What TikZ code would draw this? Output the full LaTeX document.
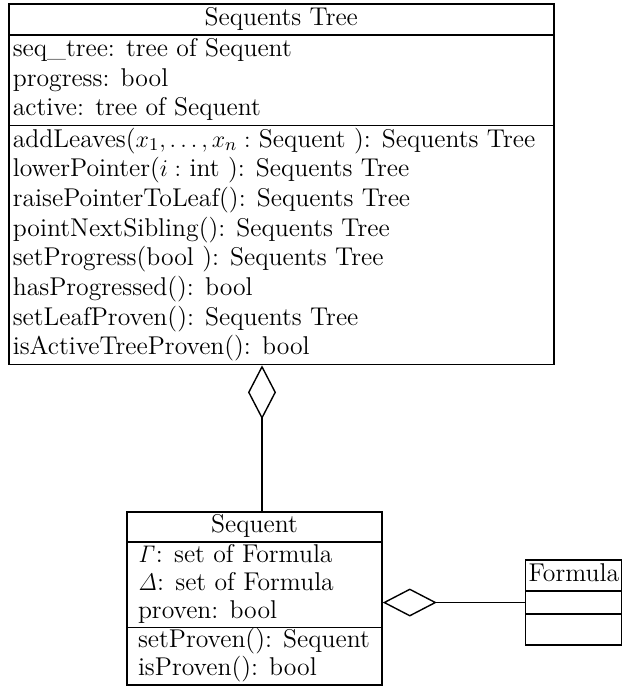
\documentclass[tikz,border=0pt]{standalone}
\usetikzlibrary{shapes.multipart, arrows.meta, positioning}

\begin{document}
\begin{tikzpicture}[
    umlclass/.style={rectangle split, rectangle split parts=3, draw, line width=0.8pt,
        rectangle split part align={center,left,left}, align=left,
        inner xsep=2pt, inner ysep=0pt, font=\fontsize{12.85}{14.83}\selectfont},
    aggr/.style={-{Diamond[open, length=27pt, width=14pt]}, line width=0.7pt},
]
\useasboundingbox (0,0) rectangle (310.5pt,-344.5pt);

% Classes
\node[umlclass, minimum width=272.5pt, anchor=north west] (seqtree) at (4pt,-1.5pt) {\strut Sequents Tree
\nodepart{two}\strut seq\_tree: tree of Sequent\\
progress: bool\\
active: tree of Sequent\strut
\nodepart{three}\strut addLeaves($x_1, \ldots, x_n :$ Sequent ): Sequents Tree\\
lowerPointer($i :$ int ): Sequents Tree\\
raisePointerToLeaf(): Sequents Tree\\
pointNextSibling(): Sequents Tree\\
setProgress(bool ): Sequents Tree\\
hasProgressed(): bool\\
setLeafProven(): Sequents Tree\\
isActiveTreeProven(): bool\strut};

\node[umlclass, minimum width=127.5pt, inner xsep=5.5pt, font=\fontsize{12.85}{14}\selectfont,
    below=73pt of seqtree, xshift=-13.4pt] (sequent) {\strut Sequent
\nodepart{two}\strut $\mathit{\Gamma}$: set of Formula\\
$\mathit{\Delta}$: set of Formula\\
proven: bool\strut
\nodepart{three}\strut setProven(): Sequent\\
isProven(): bool\strut};

\node[umlclass, inner xsep=1.5pt, right=71pt of sequent, yshift=-2pt] (formula) {\strut Formula
\nodepart{two}\rule{0pt}{10.5pt}
\nodepart{three}\strut};

% Aggregations
\coordinate (agg) at ([xshift=3.75pt]sequent.north);
\draw[aggr] (agg) -- (agg |- seqtree.south);
\draw[aggr] (formula.west) -- (formula.west -| sequent.east);

\end{tikzpicture}
\end{document}
